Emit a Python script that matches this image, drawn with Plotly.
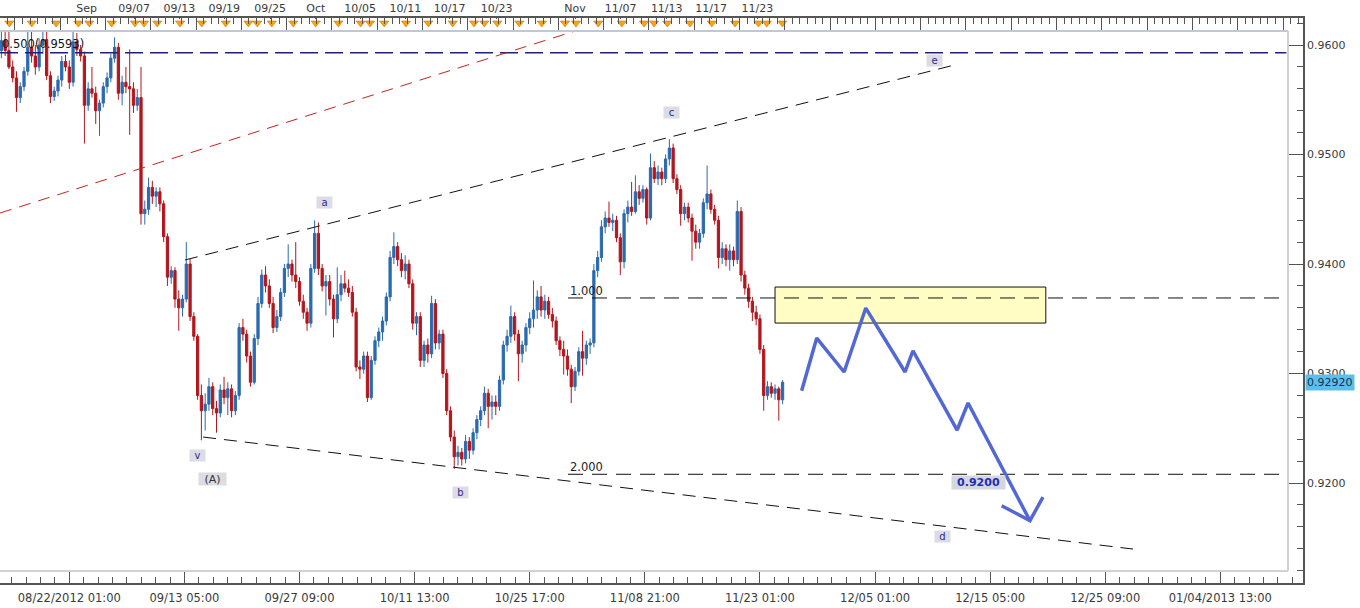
import plotly.graph_objects as go

# ---- x positions: 4-hour bar index (0 = 08/22/2012 01:00); one candle per 8 hours ----
bar_x = list(range(-36, 380, 2))

opens = [
    0.9595, 0.9604, 0.9595, 0.9580, 0.9570, 0.9552, 0.9562, 0.9576, 0.9598, 0.9590,
    0.9580, 0.9600, 0.9605, 0.9572, 0.9553, 0.9558, 0.9568, 0.9585, 0.9580, 0.9566,
    0.9603, 0.9596, 0.9590, 0.9545, 0.9560, 0.9556, 0.9540, 0.9547, 0.9562, 0.9570,
    0.9588, 0.9598, 0.9556, 0.9566, 0.9562, 0.9560, 0.9545, 0.9552, 0.9446, 0.9450,
    0.9470, 0.9462, 0.9466, 0.9455, 0.9425, 0.9388, 0.9394, 0.9368, 0.9360, 0.9368,
    0.9400, 0.9352, 0.9334, 0.9280, 0.9266, 0.9272, 0.9288, 0.9268, 0.9264, 0.9285,
    0.9278, 0.9286, 0.9266, 0.9280, 0.9342, 0.9336, 0.9316, 0.9292, 0.9332, 0.9364,
    0.9390, 0.9380, 0.9364, 0.9342, 0.9352, 0.9374, 0.9396, 0.9400, 0.9390, 0.9384,
    0.9366, 0.9356, 0.9346, 0.9396, 0.9428, 0.9396, 0.9380, 0.9384, 0.9368, 0.9350,
    0.9372, 0.9382, 0.9378, 0.9374, 0.9356, 0.9306, 0.9304, 0.9316, 0.9278, 0.9312,
    0.9330, 0.9338, 0.9348, 0.9370, 0.9406, 0.9416, 0.9404, 0.9394, 0.9400, 0.9382,
    0.9346, 0.9352, 0.9312, 0.9326, 0.9318, 0.9364, 0.9328, 0.9336, 0.9300, 0.9266,
    0.9242, 0.9224, 0.9228, 0.9222, 0.9238, 0.9230, 0.9246, 0.9258, 0.9266, 0.9282,
    0.9270, 0.9274, 0.9270, 0.9294, 0.9326, 0.9334, 0.9352, 0.9336, 0.9318, 0.9326,
    0.9342, 0.9350, 0.9358, 0.9370, 0.9358, 0.9366, 0.9354, 0.9348, 0.9330, 0.9322,
    0.9316, 0.9304, 0.9288, 0.9302, 0.9320, 0.9314, 0.9326, 0.9328, 0.9394, 0.9406,
    0.9434, 0.9442, 0.9438, 0.9440, 0.9424, 0.9402, 0.9446, 0.9452, 0.9448, 0.9466,
    0.9460, 0.9468, 0.9442, 0.9488, 0.9478, 0.9484, 0.9478, 0.9496, 0.9506, 0.9478,
    0.9468, 0.9446, 0.9452, 0.9442, 0.9430, 0.9420, 0.9428, 0.9456, 0.9464, 0.9450,
    0.9440, 0.9406, 0.9414, 0.9404, 0.9412, 0.9404, 0.9448, 0.9390, 0.9378, 0.9366,
    0.9356, 0.9350, 0.9322, 0.9280, 0.9288, 0.9282, 0.9286, 0.9276,
]
highs = [
    0.9612, 0.9613, 0.9612, 0.9586, 0.9576, 0.9566, 0.9580, 0.9613, 0.9612, 0.9600,
    0.9606, 0.9613, 0.9612, 0.9576, 0.9562, 0.9572, 0.9590, 0.9591, 0.9586, 0.9613,
    0.9611, 0.9600, 0.9594, 0.9566, 0.9580, 0.9562, 0.9550, 0.9566, 0.9575, 0.9592,
    0.9607, 0.9602, 0.9572, 0.9580, 0.9596, 0.9566, 0.9560, 0.9580, 0.9458, 0.9479,
    0.9476, 0.9470, 0.9470, 0.9458, 0.9428, 0.9398, 0.9397, 0.9376, 0.9372, 0.9420,
    0.9405, 0.9356, 0.9336, 0.9290, 0.9282, 0.9296, 0.9292, 0.9275, 0.9290, 0.9297,
    0.9292, 0.9290, 0.9284, 0.9346, 0.9350, 0.9340, 0.9320, 0.9336, 0.9370, 0.9395,
    0.9398, 0.9386, 0.9370, 0.9358, 0.9378, 0.9400, 0.9418, 0.9404, 0.9420, 0.9388,
    0.9372, 0.9360, 0.9400, 0.9440, 0.9438, 0.9400, 0.9390, 0.9390, 0.9372, 0.9397,
    0.9390, 0.9394, 0.9386, 0.9380, 0.9360, 0.9312, 0.9320, 0.9320, 0.9316, 0.9334,
    0.9342, 0.9352, 0.9374, 0.9412, 0.9429, 0.9420, 0.9410, 0.9408, 0.9404, 0.9386,
    0.9356, 0.9356, 0.9330, 0.9332, 0.9371, 0.9368, 0.9340, 0.9340, 0.9304, 0.9270,
    0.9248, 0.9234, 0.9232, 0.9244, 0.9242, 0.9250, 0.9262, 0.9270, 0.9288, 0.9286,
    0.9280, 0.9280, 0.9298, 0.9330, 0.9340, 0.9362, 0.9356, 0.9340, 0.9330, 0.9346,
    0.9356, 0.9385, 0.9376, 0.9380, 0.9372, 0.9370, 0.9360, 0.9352, 0.9334, 0.9330,
    0.9322, 0.9308, 0.9306, 0.9324, 0.9339, 0.9330, 0.9332, 0.9400, 0.9412, 0.9440,
    0.9448, 0.9457, 0.9446, 0.9444, 0.9428, 0.9450, 0.9458, 0.9475, 0.9481, 0.9472,
    0.9472, 0.9470, 0.9501, 0.9494, 0.9490, 0.9488, 0.9500, 0.9514, 0.9510, 0.9482,
    0.9472, 0.9456, 0.9456, 0.9446, 0.9436, 0.9432, 0.9460, 0.9490, 0.9468, 0.9454,
    0.9444, 0.9420, 0.9418, 0.9418, 0.9416, 0.9458, 0.9452, 0.9394, 0.9382, 0.9370,
    0.9362, 0.9354, 0.9326, 0.9293, 0.9292, 0.9290, 0.9288, 0.9294,
]
lows = [
    0.9588, 0.9590, 0.9578, 0.9566, 0.9539, 0.9547, 0.9558, 0.9572, 0.9584, 0.9573,
    0.9576, 0.9592, 0.9568, 0.9547, 0.9549, 0.9553, 0.9562, 0.9576, 0.9560, 0.9562,
    0.9590, 0.9585, 0.9510, 0.9540, 0.9552, 0.9528, 0.9517, 0.9543, 0.9556, 0.9566,
    0.9584, 0.9550, 0.9545, 0.9556, 0.9518, 0.9538, 0.9540, 0.9436, 0.9436, 0.9445,
    0.9455, 0.9452, 0.9448, 0.9420, 0.9380, 0.9382, 0.9360, 0.9339, 0.9352, 0.9365,
    0.9348, 0.9330, 0.9276, 0.9239, 0.9248, 0.9266, 0.9262, 0.9246, 0.9260, 0.9272,
    0.9262, 0.9260, 0.9262, 0.9276, 0.9330, 0.9310, 0.9288, 0.9290, 0.9326, 0.9360,
    0.9374, 0.9360, 0.9337, 0.9338, 0.9348, 0.9370, 0.9388, 0.9384, 0.9378, 0.9362,
    0.9350, 0.9339, 0.9342, 0.9392, 0.9390, 0.9375, 0.9353, 0.9362, 0.9333, 0.9346,
    0.9366, 0.9374, 0.9370, 0.9352, 0.9302, 0.9295, 0.9300, 0.9274, 0.9276, 0.9308,
    0.9324, 0.9330, 0.9344, 0.9366, 0.9400, 0.9398, 0.9388, 0.9386, 0.9378, 0.9340,
    0.9335, 0.9306, 0.9306, 0.9310, 0.9314, 0.9322, 0.9322, 0.9296, 0.9262, 0.9238,
    0.9213, 0.9216, 0.9216, 0.9218, 0.9222, 0.9226, 0.9240, 0.9252, 0.9262, 0.9250,
    0.9258, 0.9262, 0.9266, 0.9290, 0.9320, 0.9328, 0.9330, 0.9293, 0.9310, 0.9320,
    0.9336, 0.9342, 0.9350, 0.9352, 0.9350, 0.9350, 0.9342, 0.9326, 0.9316, 0.9299,
    0.9298, 0.9273, 0.9284, 0.9298, 0.9298, 0.9308, 0.9318, 0.9324, 0.9388, 0.9402,
    0.9428, 0.9434, 0.9430, 0.9420, 0.9390, 0.9396, 0.9438, 0.9444, 0.9446, 0.9454,
    0.9456, 0.9436, 0.9440, 0.9474, 0.9472, 0.9472, 0.9474, 0.9490, 0.9474, 0.9464,
    0.9435, 0.9440, 0.9438, 0.9403, 0.9414, 0.9414, 0.9424, 0.9450, 0.9446, 0.9436,
    0.9396, 0.9400, 0.9398, 0.9394, 0.9398, 0.9400, 0.9384, 0.9372, 0.9360, 0.9348,
    0.9344, 0.9318, 0.9266, 0.9276, 0.9278, 0.9276, 0.9257, 0.9272,
]
closes = [
    0.9604, 0.9595, 0.9580, 0.9570, 0.9552, 0.9562, 0.9576, 0.9598, 0.9590, 0.9580,
    0.9600, 0.9605, 0.9572, 0.9553, 0.9558, 0.9568, 0.9585, 0.9580, 0.9566, 0.9603,
    0.9596, 0.9590, 0.9545, 0.9560, 0.9556, 0.9540, 0.9547, 0.9562, 0.9570, 0.9588,
    0.9598, 0.9556, 0.9566, 0.9562, 0.9560, 0.9545, 0.9552, 0.9446, 0.9450, 0.9470,
    0.9462, 0.9466, 0.9455, 0.9425, 0.9388, 0.9394, 0.9368, 0.9360, 0.9368, 0.9400,
    0.9352, 0.9334, 0.9280, 0.9266, 0.9272, 0.9288, 0.9268, 0.9264, 0.9285, 0.9278,
    0.9286, 0.9266, 0.9280, 0.9342, 0.9336, 0.9316, 0.9292, 0.9332, 0.9364, 0.9390,
    0.9380, 0.9364, 0.9342, 0.9352, 0.9374, 0.9396, 0.9400, 0.9390, 0.9384, 0.9366,
    0.9356, 0.9346, 0.9396, 0.9428, 0.9396, 0.9380, 0.9384, 0.9368, 0.9350, 0.9372,
    0.9382, 0.9378, 0.9374, 0.9356, 0.9306, 0.9304, 0.9316, 0.9278, 0.9312, 0.9330,
    0.9338, 0.9348, 0.9370, 0.9406, 0.9416, 0.9404, 0.9394, 0.9400, 0.9382, 0.9346,
    0.9352, 0.9312, 0.9326, 0.9318, 0.9364, 0.9328, 0.9336, 0.9300, 0.9266, 0.9242,
    0.9224, 0.9228, 0.9222, 0.9238, 0.9230, 0.9246, 0.9258, 0.9266, 0.9282, 0.9270,
    0.9274, 0.9270, 0.9294, 0.9326, 0.9334, 0.9352, 0.9336, 0.9318, 0.9326, 0.9342,
    0.9350, 0.9358, 0.9370, 0.9358, 0.9366, 0.9354, 0.9348, 0.9330, 0.9322, 0.9316,
    0.9304, 0.9288, 0.9302, 0.9320, 0.9314, 0.9326, 0.9328, 0.9394, 0.9406, 0.9434,
    0.9442, 0.9438, 0.9440, 0.9424, 0.9402, 0.9446, 0.9452, 0.9448, 0.9466, 0.9460,
    0.9468, 0.9442, 0.9488, 0.9478, 0.9484, 0.9478, 0.9496, 0.9506, 0.9478, 0.9468,
    0.9446, 0.9452, 0.9442, 0.9430, 0.9420, 0.9428, 0.9456, 0.9464, 0.9450, 0.9440,
    0.9406, 0.9414, 0.9404, 0.9412, 0.9404, 0.9448, 0.9390, 0.9378, 0.9366, 0.9356,
    0.9350, 0.9322, 0.9280, 0.9288, 0.9282, 0.9286, 0.9276, 0.9292,
]

# ---- axes ----
x_range = [-36.73, 653.8]
y_range = [0.91087, 0.96247]
bottom_tick_pos = [0, 61, 122, 183, 244, 305, 366, 427, 488, 549, 610]
bottom_tick_text = ["08/22/2012 01:00", "09/13 05:00", "09/27 09:00", "10/11 13:00",
                    "10/25 17:00", "11/08 21:00", "11/23 01:00", "12/05 01:00",
                    "12/15 05:00", "12/25 09:00", "01/04/2013 13:00"]
top_tick_pos = [9.2, 34.3, 58.3, 82.1, 106.4, 130.6, 154.1, 178.1, 201.5, 226.5,
                268.0, 292.2, 316.6, 340.1, 364.6]
top_tick_text = ["Sep", "09/07", "09/13", "09/19", "09/25", "Oct", "10/05", "10/11",
                 "10/17", "10/23", "Nov", "11/07", "11/13", "11/17", "11/23"]
event_pos = [-31.8, -19.9, -7.0, 4.8, 10.6, 22.5, 34.8, 39.6, 46.6, 58.7, 70.2, 82.9,
             94.9, 99.6, 107.3, 118.7, 130.6, 142.6, 154.4, 159.4, 166.9, 178.4, 190.3,
             203.2, 214.5, 219.9, 226.8, 238.5, 250.4, 262.7, 268.5, 280.3, 292.8, 304.6,
             309.9, 316.9, 328.9, 340.5, 352.8, 365.2, 369.6, 377.9]
event_level = 0.96201

# ---- drawn studies ----
fib_levels = [0.9593, 0.9369, 0.9208]
fib_texts = ["0.500(0.9593)", "1.000", "2.000"]
fib_x = [[-36.7, 645.0], [264.3, 644.3], [264.3, 644.3]]
upper_trend_x = [61.3, 471.0]
upper_trend_y = [0.94037, 0.95826]
lower_trend_x = [70.9, 563.7]
lower_trend_y = [0.92420, 0.91397]
red_trend_x = [-36.7, 268.0]
red_trend_y = [0.94466, 0.96128]
zone_x = [374.0, 517.5]
zone_y = [0.93461, 0.93790]
path_x = [388.1, 396.1, 410.6, 422.1, 442.9, 447.1, 470.5, 476.3, 509.1]
path_y = [0.92843, 0.93324, 0.93014, 0.93598, 0.93014, 0.93208, 0.92484, 0.92731, 0.91656]
arrow_x = [494.1, 509.1, 516.0]
arrow_y = [0.91793, 0.91656, 0.91872]
wave_text = ["a", "b", "c", "d", "e", "v"]
wave_x = [135.0, 207.3, 319.3, 463.0, 458.3, 68.0]
wave_y = [0.94560, 0.91918, 0.95382, 0.91510, 0.95863, 0.92249]
last_price = 0.92920

FONT = "DejaVu Sans, Verdana, sans-serif"
UP = "#2a6aae"
DOWN = "#b3161c"

fig = go.Figure()

fig.add_trace(go.Candlestick(
    x=bar_x, open=opens, high=highs, low=lows, close=closes,
    increasing=dict(line=dict(color=UP, width=1), fillcolor=UP),
    decreasing=dict(line=dict(color=DOWN, width=1), fillcolor=DOWN),
    whiskerwidth=0, showlegend=False, hoverinfo="skip"))

# horizontal fib lines
fib_styles = [dict(color="#20207a", width=1.5, dash="18px,7px"),
              dict(color="#111111", width=1, dash="15px,9px"),
              dict(color="#111111", width=1, dash="15px,9px")]
for lvl, xs, st in zip(fib_levels, fib_x, fib_styles):
    fig.add_trace(go.Scatter(x=xs, y=[lvl, lvl], mode="lines", line=st,
                             showlegend=False, hoverinfo="skip"))

# trend lines
fig.add_trace(go.Scatter(x=upper_trend_x, y=upper_trend_y, mode="lines",
                         line=dict(color="#111111", width=1, dash="13px,8px"),
                         showlegend=False, hoverinfo="skip"))
fig.add_trace(go.Scatter(x=lower_trend_x, y=lower_trend_y, mode="lines",
                         line=dict(color="#111111", width=1, dash="13px,8px"),
                         showlegend=False, hoverinfo="skip"))
fig.add_trace(go.Scatter(x=red_trend_x, y=red_trend_y, mode="lines",
                         line=dict(color="#c8231e", width=1, dash="12px,8px"),
                         showlegend=False, hoverinfo="skip"))

# projected path
fig.add_trace(go.Scatter(x=path_x, y=path_y, mode="lines",
                         line=dict(color="#5468d4", width=3.5),
                         showlegend=False, hoverinfo="skip"))
fig.add_trace(go.Scatter(x=arrow_x, y=arrow_y, mode="lines",
                         line=dict(color="#5468d4", width=3.5),
                         showlegend=False, hoverinfo="skip"))

# event markers on the top ruler
fig.add_trace(go.Scatter(x=event_pos, y=[event_level] * len(event_pos), xaxis="x2",
                         mode="markers",
                         marker=dict(symbol="triangle-down", size=8, color="#f5a31a",
                                     line=dict(color="#c98000", width=0.6)),
                         showlegend=False, hoverinfo="skip"))
fig.add_trace(go.Scatter(x=[], y=[], xaxis="x3", showlegend=False, hoverinfo="skip"))

# zone rectangle
fig.add_shape(type="rect", xref="x", yref="y", x0=zone_x[0], x1=zone_x[1],
              y0=zone_y[0], y1=zone_y[1], fillcolor="#fffcc4",
              line=dict(color="#111111", width=1), layer="below")

# inner chart frame (light grey)
W, H = 1303.0, 565.0
fx = 1288 / W
fy_top = (583 - 31) / H
fy_bot = (583 - 571) / H
fig.add_shape(type="line", xref="paper", yref="paper", x0=0, x1=fx, y0=fy_top, y1=fy_top,
              line=dict(color="#bfc8d8", width=2))
fig.add_shape(type="line", xref="paper", yref="paper", x0=fx, x1=fx, y0=fy_bot, y1=fy_top,
              line=dict(color="#d2d2d6", width=2))
fig.add_shape(type="line", xref="paper", yref="paper", x0=0, x1=fx, y0=fy_bot, y1=fy_bot,
              line=dict(color="#d2d2d6", width=2))

annotations = []
for t, xx, yy in zip(wave_text, wave_x, wave_y):
    annotations.append(dict(x=xx, y=yy, xref="x", yref="y", text=t, showarrow=False,
                            font=dict(family=FONT, size=10, color="#2b2b8f"),
                            bgcolor="#dcdce6", width=15, height=11, borderpad=0))
annotations.append(dict(x=76.0, y=0.92039, xref="x", yref="y", text="(A)", showarrow=False,
                        font=dict(family=FONT, size=11, color="#333333"),
                        bgcolor="#dcdce2", width=27, height=12, borderpad=0))
annotations.append(dict(x=481.6, y=0.92003, xref="x", yref="y", text="<b>0.9200</b>",
                        showarrow=False, font=dict(family=FONT, size=11, color="#1c2db5"),
                        bgcolor="#d6d6de", width=53, height=13, borderpad=0))
annotations.append(dict(x=264.3, y=0.93754, xref="x", yref="y", text=fib_texts[1],
                        xanchor="left", showarrow=False,
                        font=dict(family=FONT, size=11.5, color="#222222")))
annotations.append(dict(x=264.3, y=0.92146, xref="x", yref="y", text=fib_texts[2],
                        xanchor="left", showarrow=False,
                        font=dict(family=FONT, size=11.5, color="#222222")))
annotations.append(dict(x=-36.5, y=0.96012, xref="x", yref="y", text=fib_texts[0],
                        xanchor="left", showarrow=False,
                        font=dict(family=FONT, size=11.5, color="#111111")))
annotations.append(dict(x=1.0015, y=last_price, xref="paper", yref="y", text="0.92920",
                        xanchor="left", showarrow=False,
                        font=dict(family=FONT, size=11, color="#1a2f50"),
                        bgcolor="#5bbfee", borderpad=1))

axis_font = dict(family=FONT, size=11, color="#3a3a3a")
bottom_font = dict(family=FONT, size=11.5, color="#3a3a3a")

fig.update_layout(
    width=1360, height=608,
    margin=dict(l=0, r=57, t=18, b=25, autoexpand=False),
    paper_bgcolor="white", plot_bgcolor="white",
    showlegend=False,
    annotations=annotations,
    xaxis=dict(range=x_range, tickmode="array", tickvals=bottom_tick_pos,
               ticktext=bottom_tick_text, ticks="inside", ticklen=12, tickcolor="#555555",
               showline=True, linecolor="#555555", linewidth=1.5, showgrid=False,
               zeroline=False, tickfont=bottom_font, ticklabelstandoff=3, automargin=False,
               rangeslider=dict(visible=False),
               minor=dict(tickmode="linear", tick0=0, dtick=7.625, ticks="inside",
                          ticklen=6, tickcolor="#555555", showgrid=False)),
    xaxis2=dict(range=x_range, overlaying="x", side="top", anchor="y", automargin=False,
                tickmode="array", tickvals=top_tick_pos, ticktext=top_tick_text,
                ticks="inside", ticklen=1, tickcolor="#555555",
                showline=True, linecolor="#555555", linewidth=1.5, showgrid=False,
                zeroline=False, tickfont=axis_font,
                minor=dict(tickmode="linear", tick0=19.2, dtick=4, ticks="inside",
                           ticklen=6, tickcolor="#555555", showgrid=False)),
    xaxis3=dict(range=x_range, overlaying="x", side="top", anchor="y", automargin=False,
                tickmode="linear", tick0=19.2, dtick=24, ticks="inside", ticklen=12,
                tickcolor="#555555", showticklabels=False, showline=False,
                showgrid=False, zeroline=False),
    yaxis=dict(range=y_range, side="right", tickmode="linear", tick0=0, dtick=0.01,
               tickformat=".4f", ticks="inside", ticklen=15, tickcolor="#555555",
               showline=True, linecolor="#555555", linewidth=1.5, showgrid=False,
               zeroline=False, tickfont=axis_font, automargin=False,
               minor=dict(tickmode="linear", tick0=0, dtick=0.002, ticks="inside",
                          ticklen=6, tickcolor="#555555", showgrid=False)),
    boxgap=0.15,
)

fig.write_html("out.html", config={"displayModeBar": False},
               post_script="document.body.style.margin='0px';document.body.style.overflow='hidden';")
